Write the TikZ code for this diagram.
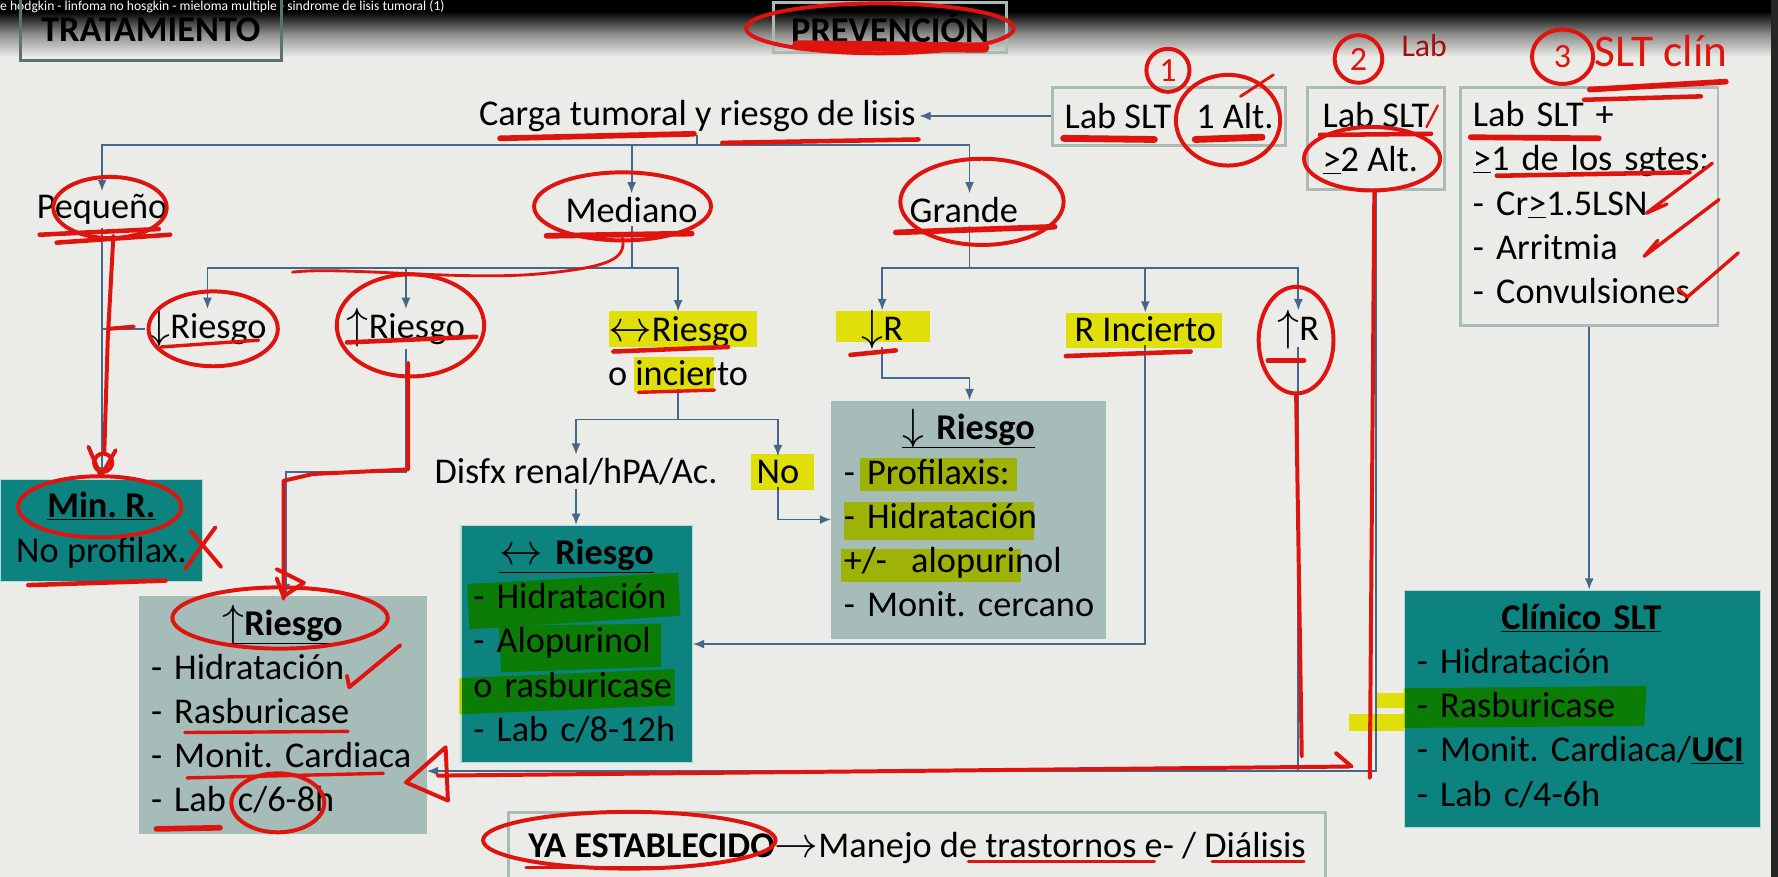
\documentclass[tikz,border=0pt]{standalone}
\usepackage{fontspec}
\setmainfont{Carlito}
\usetikzlibrary{arrows.meta,calc}
\frenchspacing

\definecolor{slidebg}{HTML}{EBEBE8}
\definecolor{tealfill}{HTML}{0C837F}
\definecolor{grayfill}{HTML}{A6BCB9}
\definecolor{boxline}{HTML}{A9BAB7}
\definecolor{titleline}{HTML}{587472}
\definecolor{linkblue}{HTML}{44678C}
\definecolor{inkred}{HTML}{E0140E}
\definecolor{inkdark}{HTML}{A01010}
\definecolor{hlyellow}{HTML}{F4F20C}

\newcommand{\slidefont}{\fontsize{32}{39}\selectfont}
\newcommand{\gte}{\underline{>}}
\newcommand{\flecha}[1]{\raisebox{0pt}[0.72em][0.1em]{\scalebox{1.55}{$#1$}}}
\newcommand{\boxtitle}[2]{\hspace*{#1}\makebox[0pt]{\textbf{\underline{#2}}}}
\newcommand{\boxlines}[1]{\noindent\begin{tabular}{@{}l@{}}#1\end{tabular}}

\tikzset{
  txt/.style={font=\slidefont, inner sep=3pt},
  lbox/.style={txt, draw=boxline, line width=2.5pt, inner xsep=10pt},
  tealbox/.style={txt, fill=tealfill, draw=white!70!tealfill, line width=1pt, inner xsep=11pt, anchor=north west},
  graybox/.style={txt, fill=grayfill, inner xsep=11pt, anchor=north west},
  conn/.style={draw=linkblue, line width=1.6pt},
  arr/.style={conn, -{Latex[length=10pt,width=8pt]}},
  ink/.style={draw=inkred, line width=3.5pt, line cap=round, line join=round},
  inktext/.style={text=inkred, font=\fontsize{30}{30}\selectfont, inner sep=0pt},
  hl/.style={fill=hlyellow, blend mode=multiply},
}

\begin{document}
\begin{tikzpicture}[x=1pt,y=-1pt]
\useasboundingbox (0,0) rectangle (1568,773);
\fill[slidebg] (0,0) rectangle (1568,773);
\fill[black] (0,0) rectangle (1568,10);
\shade[top color=black, bottom color=slidebg, middle color=black!40!slidebg] (0,10) rectangle (1568,50);
\fill[black!85] (1562,0) rectangle (1568,773);
\node[anchor=west, text=white, inner sep=0pt, font=\fontsize{12}{14}\selectfont] (ventana) at (0,6)
  {e hodgkin - linfoma no hosgkin - mieloma multiple - sindrome de lisis tumoral (1)};

% titulos
\node[lbox, draw=titleline, minimum width=230, minimum height=54, font=\slidefont\bfseries] (tratamiento) at (133,26) {TRATAMIENTO};
\node[lbox, minimum width=205, minimum height=44, font=\slidefont\bfseries] (prevencion) at (785,24) {PREVENCIÓN};

% fila superior
\node[txt] (carga) at (615,102) {Carga tumoral y riesgo de lisis};
\node[lbox, minimum width=206, minimum height=51] (labUno) at (1031,102.5) {Lab SLT\hspace{22pt}1 Alt.};
\node[lbox, minimum width=121, minimum height=90, align=left] (labDos) at (1213.5,122) {Lab SLT\\\gte2 Alt.};
\node[lbox, minimum width=227, minimum height=210, text width=205] (labTres) at (1401.5,182)
  {\boxlines{Lab SLT +\\\gte1 de los sgtes:\\- Cr\gte1.5LSN\\- Arritmia\\- Convulsiones}};

% carga tumoral
\node[txt] (pequeno) at (90,185) {Pequeño};
\node[txt] (mediano) at (557,185) {Mediano};
\node[txt] (grande) at (850,185) {Grande};

% riesgo
\node[txt] (bajoR) at (183,290) {\flecha{\downarrow}Riesgo};
\node[txt] (altoR) at (358,290) {\flecha{\uparrow}Riesgo};
\node[txt, align=center] (medioR) at (598,309) {\flecha{\leftrightarrow}Riesgo\\o incierto};
\node[txt] (grBajo) at (778,290) {\flecha{\downarrow}R};
\node[txt] (grIncierto) at (1010,290) {R Incierto};
\node[txt] (grAlto) at (1145,290) {\flecha{\uparrow}R};
\node[txt] (disfx) at (508,416) {Disfx renal/hPA/Ac.};
\node[txt] (noDisfx) at (686,416) {No};

% manejo
\node[tealbox, minimum width=178, minimum height=90, align=center] (minR) at (0,422) {\textbf{\underline{Min. R.}}\\No profilax.};
\node[graybox, minimum width=254, minimum height=210, text width=232] (boxAlto) at (122,525)
  {\boxlines{\boxtitle{116pt}{\flecha{\uparrow}Riesgo}\\- Hidratación\\- Rasburicase\\- Monit. Cardiaca\\- Lab c/6-8h}};
\node[tealbox, minimum width=204, minimum height=209, text width=182] (boxMedio) at (406,463)
  {\boxlines{\boxtitle{91pt}{\flecha{\leftrightarrow} Riesgo}\\- Hidratación\\- Alopurinol\\o rasburicase\\- Lab c/8-12h}};
\node[graybox, minimum width=242, minimum height=210, text width=220] (boxBajo) at (733,353)
  {\boxlines{\boxtitle{110pt}{\flecha{\downarrow} Riesgo}\\- Profilaxis:\\- Hidratación\\+/-\ \ alopurinol\\- Monit. cercano}};
\node[tealbox, minimum width=314, minimum height=209, text width=292] (boxClinico) at (1238,520)
  {\boxlines{\boxtitle{145pt}{Clínico SLT}\\- Hidratación\\- Rasburicase\\- Monit. Cardiaca/\textbf{\underline{UCI}}\\- Lab c/4-6h}};
\node[lbox, minimum width=721, minimum height=62, anchor=north west] (yaBox) at (447,715)
  {\textbf{YA ESTABLECIDO}\flecha{\rightarrow}Manejo de trastornos e- / Diálisis};

% conectores
\coordinate (cBus) at (615,128);
\coordinate (mBus) at (557,236);
\coordinate (gBus) at (855,236);
\coordinate (eBus) at (598,370);
\coordinate (altoCodo) at (252,416);
\coordinate (bajoCodo) at (855,333);
\coordinate (altoBus) at (1145,680);

\draw[arr] (labUno) -- (carga);
\draw[conn] (carga) -- (cBus);
\draw[arr] (cBus) -| (pequeno);
\draw[arr] (cBus) -| (mediano);
\draw[arr] (cBus) -| (grande.north -| gBus);
\draw[conn] (mediano) -- (mBus);
\draw[arr] (mBus) -| (bajoR);
\draw[arr] (mBus) -| (altoR);
\draw[arr] (mBus) -| (medioR);
\draw[conn] (grande.south -| gBus) -- (gBus);
\draw[arr] (gBus) -| (grBajo);
\draw[arr] (gBus) -| (grIncierto);
\draw[arr] (gBus) -| (grAlto);
\draw[arr] (pequeno) -- (pequeno |- minR.north);
\draw[conn] (bajoR.west) -- (bajoR.west -| pequeno);
\draw[arr] (altoR) |- (altoCodo) -- (altoCodo |- boxAlto.north);
\draw[conn] (medioR) -- (eBus);
\draw[arr] (eBus) -| (disfx);
\draw[arr] (eBus) -| (noDisfx);
\draw[arr] (disfx) -- (disfx |- boxMedio.north);
\draw[arr] (noDisfx) |- (boxBajo.west);
\draw[arr] (grBajo) |- (bajoCodo) -- (bajoCodo |- boxBajo.north);
\draw[arr] (grIncierto) |- (boxMedio.east);
\draw[arr] (grAlto) |- (boxAlto.east |- altoBus);
\draw[conn] (labDos) |- (altoBus);
\draw[arr] (labTres) -- (labTres |- boxClinico.north);

% resaltador
\fill[hl] (537,274) rectangle (668,306);
\fill[hl] (559,315) rectangle (630,346);
\fill[hl] (737,274) rectangle (820,302);
\fill[hl] (940,276) rectangle (1078,307);
\fill[hl] (662,400) rectangle (718,432);
\fill[hl] (758,404) rectangle (897,433);
\fill[hl] (744,443) rectangle (912,476);
\fill[hl] (742,484) rectangle (900,513);
\fill[hl] (412,515) -- (598,505) -- (600,543) -- (414,555) -- cycle;
\fill[hl] (440,552) -- (583,550) -- (583,588) -- (442,593) -- cycle;
\fill[hl] (405,598) -- (595,590) -- (595,622) -- (405,630) -- cycle;
\fill[hl] (1238,607) -- (1452,605) -- (1450,640) -- (1238,642) -- cycle;
\fill[hl] (1190,630) rectangle (1238,645);
\fill[hl] (1214,611) rectangle (1238,624);

% tinta roja
\draw[ink] (776,25) ellipse [x radius=118, y radius=22];
\draw[ink, line width=9pt] (703,40) -- (868,42);
\draw[ink, line width=5pt] (441,122) -- (612,118);
\draw[ink, line width=4pt] (637,126) -- (810,123);
\draw[ink] (1030,62) circle [radius=19];
\node[inktext] (numUno) at (1030,62) {1};
\draw[ink] (1083,106) ellipse [x radius=46, y radius=40];
\draw[ink, line width=2.5pt] (1094,85) -- (1123,66);
\draw[ink, line width=6pt] (938,122) -- (1018,123);
\draw[ink, line width=6pt] (1054,123) -- (1113,121);
\draw[ink] (1198,52) circle [radius=21];
\node[inktext] (numDos) at (1198,52) {2};
\node[inktext, text=inkdark, font=\fontsize{28}{28}\selectfont] (notaLab) at (1256,40) {Lab};
\draw[ink] (1210,140) ellipse [x radius=60, y radius=28];
\draw[ink, line width=4pt] (1164,119) -- (1262,118);
\draw[ink, line width=2pt] (1258,112) -- (1268,93);
\draw[ink] (1378,50) ellipse [x radius=27, y radius=24];
\node[inktext] (numTres) at (1378,50) {3};
\node[inktext, font=\fontsize{40}{40}\selectfont] (notaClin) at (1465,45) {SLT clín};
\draw[ink, line width=5pt] (1402,79) -- (1522,72);
\draw[ink, line width=4pt] (1397,88) -- (1500,85);
\draw[ink, line width=5pt] (1297,121) -- (1410,122);
\draw[ink, line width=4pt] (1320,155) -- (1490,152);
\draw[ink, line width=3pt] (1470,180) -- (1452,188) -- (1510,144);
\draw[ink, line width=3pt] (1462,212) -- (1450,226) -- (1516,176);
\draw[ink, line width=3pt] (1480,255) -- (1488,262) -- (1533,223);

\draw[ink] (97,183) ellipse [x radius=50, y radius=27];
\draw[ink, line width=4pt] (35,207) -- (140,202);
\draw[ink, line width=4pt] (50,214) -- (150,207);
\draw[ink] (100,208) -- (95,300) -- (92,398);
\draw[ink] (91,408) circle [radius=8];
\draw[ink] (78,394) -- (89,420) -- (102,397);
\draw[ink] (96,290) -- (118,288);
\draw[ink] (549,182) ellipse [x radius=78, y radius=30];
\draw[ink, line width=5pt] (482,208) -- (610,206);
\draw[ink, line width=2.5pt] (549,210) .. controls (552,228) and (540,236) .. (470,242) .. controls (400,247) and (300,235) .. (258,240);
\draw[ink] (866,178) ellipse [x radius=72, y radius=38];
\draw[ink, line width=5pt] (790,205) -- (930,200);

\draw[ink] (188,290) ellipse [x radius=57, y radius=33];
\draw[ink, line width=3pt] (142,306) -- (228,300);
\draw[ink] (362,287) ellipse [x radius=65, y radius=45];
\draw[ink, line width=4pt] (306,302) -- (420,297);
\draw[ink] (360,320) -- (360,414) -- (276,418) -- (250,424) -- (250,528);
\draw[ink] (244,502) -- (268,514) -- (250,526) -- (244,510);
\draw[ink, line width=4pt] (541,310) -- (642,306);
\draw[ink, line width=3pt] (563,346) -- (630,344);
\draw[ink, line width=4pt] (750,313) -- (790,309);
\draw[ink, line width=4pt] (940,314) -- (1050,310);
\draw[ink] (1143,300) ellipse [x radius=33, y radius=47];
\draw[ink, line width=4pt] (1118,318) -- (1150,318);
\draw[ink] (1143,347) -- (1148,667);
\draw[ink] (1212,168) -- (1208,686);
\draw[ink] (386,684) -- (1190,676);
\draw[ink] (1178,664) -- (1192,676);
\draw[ink] (393,659) -- (358,690) -- (395,706) -- cycle;

\draw[ink] (88,447) ellipse [x radius=72, y radius=27];
\draw[ink] (190,465) -- (163,502);
\draw[ink] (168,468) -- (195,500);
\draw[ink, line width=4pt] (25,516) -- (146,512);
\draw[ink] (247,545) ellipse [x radius=95, y radius=27];
\draw[ink] (306,596) -- (308,606) -- (353,569);
\draw[ink, line width=3pt] (163,646) -- (307,645);
\draw[ink, line width=3pt] (165,686) -- (338,682);
\draw[ink] (245,708) ellipse [x radius=41, y radius=26];
\draw[ink, line width=5pt] (138,731) -- (194,730);
\draw[ink] (555,741) ellipse [x radius=129, y radius=25];
\draw[ink, line width=3pt] (464,765) -- (591,765);
\draw[ink, line width=3pt] (854,760) -- (1018,760);
\draw[ink, line width=3pt] (1069,760) -- (1150,760);
\end{tikzpicture}
\end{document}
